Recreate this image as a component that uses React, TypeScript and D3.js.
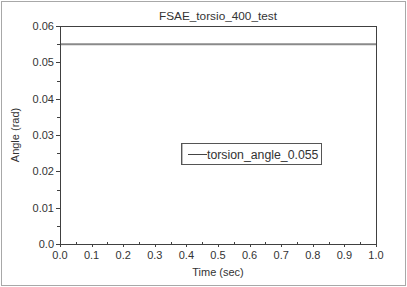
import React from "react";
import * as d3 from "d3";

const title = "FSAE_torsio_400_test";
const xLabel = "Time (sec)";
const yLabel = "Angle (rad)";
const seriesName = "torsion_angle_0.055";
const timeValues = [0.0, 1.0];
const angleValues = [0.055, 0.055];
const xTicks = [0, 0.1, 0.2, 0.3, 0.4, 0.5, 0.6, 0.7, 0.8, 0.9, 1.0];
const yTicks = [0, 0.01, 0.02, 0.03, 0.04, 0.05, 0.06];

export default function App() {
  const W = 407, H = 287;
  const m = { left: 60, top: 26, right: 376, bottom: 244 };
  const x = d3.scaleLinear().domain([0, 1]).range([m.left, m.right]);
  const y = d3.scaleLinear().domain([0, 0.06]).range([m.bottom, m.top]);
  const line = d3.line<number>().x((_, i) => x(timeValues[i])).y((d) => y(d));
  const xMinor = d3.range(0.05, 1, 0.1);
  const yMinor = d3.range(0.005, 0.06, 0.01);
  const font = "Liberation Sans, Arial, sans-serif";
  const axisColor = "#404040";
  const textColor = "#333";
  return (
    <svg width={W} height={H} style={{ position: "absolute", left: 0, top: 0 }} fontFamily={font}>
      <rect x={0} y={0} width={W} height={H} fill="#fff" />
      <rect x={1.5} y={1.5} width={404} height={284} fill="none" stroke="#a8a8a8" />
      <text x={(m.left + m.right) / 2} y={19.5} textAnchor="middle" fontSize={11.8} fill={textColor}>{title}</text>
      <path d={line(angleValues) || ""} stroke="#8a8a8a" strokeWidth={2} fill="none" />
      {/* frame */}
      <line x1={m.left} x2={m.right} y1={m.top + 0.5} y2={m.top + 0.5} stroke={axisColor} />
      <line x1={m.right + 0.5} x2={m.right + 0.5} y1={m.top} y2={m.bottom} stroke={axisColor} />
      <line x1={m.left + 0.5} x2={m.left + 0.5} y1={m.top} y2={m.bottom + 3} stroke={axisColor} />
      <line x1={m.left - 4} x2={m.right + 1} y1={m.bottom + 0.5} y2={m.bottom + 0.5} stroke={axisColor} />
      {yTicks.map((t) => (
        <g key={"y" + t}>
          <line x1={m.left - 4} x2={m.left} y1={Math.round(y(t)) + 0.5} y2={Math.round(y(t)) + 0.5} stroke={axisColor} />
          <text x={m.left - 6} y={y(t) + 4} textAnchor="end" fontSize={11} fill={textColor}>{t === 0 ? "0.0" : d3.format(".2f")(t)}</text>
        </g>
      ))}
      {yMinor.map((t) => (
        <line key={"ym" + t} x1={m.left - 3} x2={m.left} y1={Math.round(y(t)) + 0.5} y2={Math.round(y(t)) + 0.5} stroke={axisColor} />
      ))}
      {xTicks.map((t) => (
        <g key={"x" + t}>
          <line x1={Math.round(x(t)) + 0.5} x2={Math.round(x(t)) + 0.5} y1={m.bottom} y2={m.bottom + 3} stroke={axisColor} />
          <text x={x(t)} y={259} textAnchor="middle" fontSize={11} fill={textColor}>{d3.format(".1f")(t)}</text>
        </g>
      ))}
      {xMinor.map((t) => (
        <line key={"xm" + t} x1={Math.round(x(t)) + 0.5} x2={Math.round(x(t)) + 0.5} y1={m.bottom - 2} y2={m.bottom} stroke={axisColor} />
      ))}
      <text x={(m.left + m.right) / 2} y={276} textAnchor="middle" fontSize={11} fill={textColor}>{xLabel}</text>
      <text transform={`translate(19,${(m.top + m.bottom) / 2}) rotate(-90)`} textAnchor="middle" fontSize={11} fill={textColor}>{yLabel}</text>
      <g>
        <rect x={181.5} y={143.5} width={140} height={21} fill="#fff" stroke="#555" />
        <line x1={182.5} x2={182.5} y1={144} y2={164} stroke="#bbb" />
        <line x1={188} x2={207} y1={154.5} y2={154.5} stroke="#444" />
        <text x={207} y={158.5} fontSize={12.3} fill={textColor}>{seriesName}</text>
      </g>
    </svg>
  );
}
